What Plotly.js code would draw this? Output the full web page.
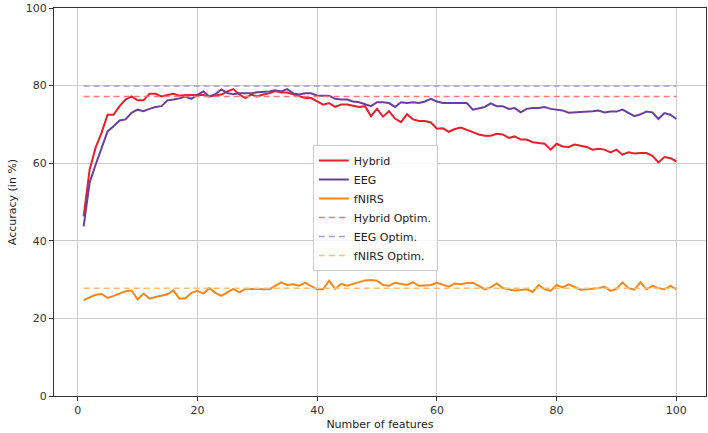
<!DOCTYPE html>
<html>
<head>
<meta charset="utf-8">
<script src="https://cdn.plot.ly/plotly-3.0.1.min.js"></script>
<style>
  html, body { margin: 0; padding: 0; background: #fff; }
  #chart { width: 708px; height: 433px; }
</style>
</head>
<body>
<div id="chart"></div>
<script>
// Number of selected features (1..100)
const features = Array.from({length: 100}, (_, i) => i + 1);

// Classification accuracy (%) per number of features
const hybrid = [
  46.3, 58.3, 64.0, 67.9, 72.5, 72.5, 74.7, 76.4, 77.2, 76.2,
  76.2, 77.9, 77.9, 77.2, 77.6, 77.9, 77.4, 77.6, 77.6, 77.6,
  77.6, 77.2, 77.5, 77.7, 78.5, 79.1, 77.7, 76.8, 77.7, 77.2,
  77.7, 78.0, 78.6, 78.2, 78.2, 77.7, 77.2, 76.8, 76.8, 75.9,
  75.1, 75.5, 74.5, 75.1, 75.1, 74.8, 74.5, 74.7, 72.1, 74.0,
  72.0, 73.4, 71.5, 70.6, 72.6, 71.3, 70.9, 70.9, 70.5, 68.9,
  69.0, 68.1, 68.8, 69.2, 68.7, 68.0, 67.4, 67.1, 67.1, 67.6,
  67.4, 66.5, 66.9, 66.1, 66.1, 65.4, 65.2, 65.0, 63.5, 65.0,
  64.3, 64.2, 64.8, 64.5, 64.2, 63.5, 63.7, 63.5, 62.8, 63.5,
  62.2, 62.8, 62.5, 62.6, 62.6, 61.9, 60.2, 61.6, 61.3, 60.5
];
const eeg = [
  43.7, 55.0, 59.6, 64.0, 68.2, 69.5, 71.0, 71.3, 73.0, 73.8,
  73.4, 74.0, 74.5, 74.7, 76.2, 76.4, 76.7, 77.2, 76.6, 77.6,
  78.5, 77.2, 77.8, 79.0, 78.1, 77.8, 78.0, 78.0, 78.0, 78.3,
  78.4, 78.5, 78.8, 78.5, 79.1, 78.0, 77.7, 78.0, 78.0, 77.4,
  77.4, 77.4, 76.6, 76.4, 76.4, 75.9, 75.7, 75.1, 74.7, 75.7,
  75.7, 75.5, 74.5, 75.7, 75.5, 75.7, 75.5, 75.9, 76.6, 75.9,
  75.5, 75.5, 75.5, 75.5, 75.5, 73.8, 74.2, 74.5, 75.4, 74.7,
  74.7, 74.0, 74.2, 73.1, 74.0, 74.2, 74.2, 74.5, 74.0, 73.8,
  73.6, 73.0, 73.1, 73.1, 73.3, 73.4, 73.6, 73.1, 73.3, 73.3,
  73.8, 72.9, 72.1, 72.6, 73.3, 73.1, 71.4, 72.9, 72.5, 71.4
];
const fnirs = [
  24.7, 25.4, 26.1, 26.3, 25.3, 25.8, 26.4, 27.0, 27.2, 24.9,
  26.4, 25.1, 25.5, 25.8, 26.2, 27.2, 25.1, 25.2, 26.6, 27.1,
  26.4, 27.8, 26.6, 25.8, 26.7, 27.6, 26.7, 27.6, 27.6, 27.5,
  27.5, 27.5, 28.4, 29.3, 28.6, 28.8, 28.4, 29.2, 28.3, 27.5,
  27.5, 29.7, 27.6, 28.9, 28.4, 28.9, 29.2, 29.8, 29.9, 29.7,
  28.6, 28.4, 29.2, 28.9, 28.6, 29.3, 28.4, 28.5, 28.6, 29.2,
  28.8, 28.2, 29.0, 28.8, 29.1, 29.2, 28.4, 27.5, 28.0, 29.0,
  27.8, 27.5, 27.2, 27.3, 27.5, 26.8, 28.6, 27.5, 27.1, 28.6,
  28.0, 28.8, 28.0, 27.4, 27.5, 27.6, 27.8, 28.2, 27.1, 27.6,
  29.3, 27.8, 27.4, 29.3, 27.5, 28.4, 27.8, 27.5, 28.4, 27.5
];

// Accuracy of the optimised models (horizontal reference levels)
const hybridOptim = 77.2;
const eegOptim = 79.9;
const fnirsOptim = 27.8;

const seriesNames = ['Hybrid', 'EEG', 'fNIRS', 'Hybrid Optim.', 'EEG Optim.', 'fNIRS Optim.'];
const xTicks = [0, 20, 40, 60, 80, 100];
const yTicks = [0, 20, 40, 60, 80, 100];

const colors = {
  hybrid: '#e8202a',
  eeg: '#6a3f9e',
  fnirs: '#f7861c',
  hybridOpt: '#f47a80',
  eegOpt: '#a79ccb',
  fnirsOpt: '#f9bd7a'
};

const flat = v => features.map(() => v);

const traces = [
  {x: features, y: hybrid, name: seriesNames[0], mode: 'lines', line: {color: colors.hybrid, width: 2}},
  {x: features, y: eeg, name: seriesNames[1], mode: 'lines', line: {color: colors.eeg, width: 2}},
  {x: features, y: fnirs, name: seriesNames[2], mode: 'lines', line: {color: colors.fnirs, width: 2}},
  {x: features, y: flat(hybridOptim), name: seriesNames[3], mode: 'lines', line: {color: colors.hybridOpt, width: 1.5, dash: '6px,4px'}},
  {x: features, y: flat(eegOptim), name: seriesNames[4], mode: 'lines', line: {color: colors.eegOpt, width: 1.5, dash: '6px,4px'}},
  {x: features, y: flat(fnirsOptim), name: seriesNames[5], mode: 'lines', line: {color: colors.fnirsOpt, width: 1.5, dash: '6px,4px'}}
];

const axisCommon = {
  showline: true,
  linecolor: '#333',
  linewidth: 1,
  mirror: true,
  showgrid: true,
  gridcolor: '#cccccc',
  gridwidth: 1,
  zeroline: false,
  ticks: 'outside',
  ticklen: 4,
  tickcolor: '#333',
  tickfont: {family: 'DejaVu Sans', size: 11, color: '#333'}
};

const layout = {
  width: 708,
  height: 433,
  margin: {l: 54, r: 2, t: 8, b: 37},
  paper_bgcolor: '#fff',
  plot_bgcolor: '#fff',
  font: {family: 'DejaVu Sans', size: 11, color: '#222'},
  showlegend: true,
  legend: {
    x: 0.397, y: 0.647, xanchor: 'left', yanchor: 'top',
    bgcolor: 'rgba(255,255,255,0.85)',
    bordercolor: '#cccccc', borderwidth: 1,
    font: {family: 'DejaVu Sans', size: 11, color: '#222'},
    itemwidth: 30,
    tracegroupgap: 0
  },
  xaxis: Object.assign({}, axisCommon, {
    range: [-3.95, 104.95],
    tickvals: xTicks,
    ticktext: xTicks.map(String),
    title: {text: 'Number of features', font: {family: 'DejaVu Sans', size: 11, color: '#222'}, standoff: 4}
  }),
  yaxis: Object.assign({}, axisCommon, {
    range: [0, 100],
    tickvals: yTicks,
    ticktext: yTicks.map(String),
    title: {text: 'Accuracy (in %)', font: {family: 'DejaVu Sans', size: 11, color: '#222'}, standoff: 6}
  })
};

Plotly.newPlot('chart', traces, layout, {displayModeBar: false, staticPlot: true});
</script>
</body>
</html>
